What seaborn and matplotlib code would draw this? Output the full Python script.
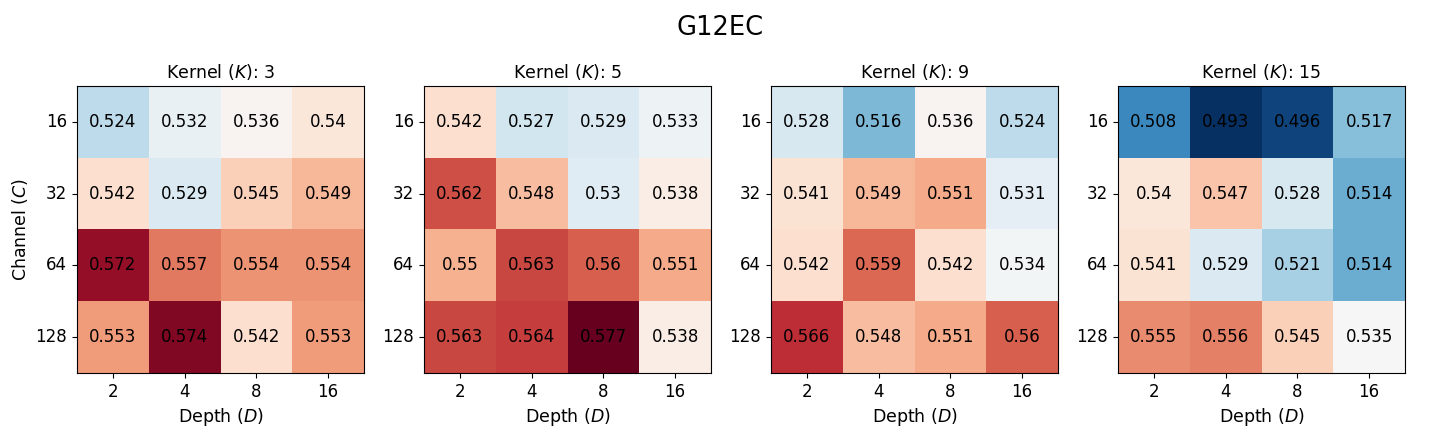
import matplotlib
matplotlib.use("Agg")
import matplotlib.pyplot as plt
import numpy as np
import seaborn as sns

depths = [2, 4, 8, 16]
channels = [16, 32, 64, 128]
kernels = [3, 5, 9, 15]

k3 = [[0.524, 0.532, 0.536, 0.54],
      [0.542, 0.529, 0.545, 0.549],
      [0.572, 0.557, 0.554, 0.554],
      [0.553, 0.574, 0.542, 0.553]]
k5 = [[0.542, 0.527, 0.529, 0.533],
      [0.562, 0.548, 0.53, 0.538],
      [0.55, 0.563, 0.56, 0.551],
      [0.563, 0.564, 0.577, 0.538]]
k9 = [[0.528, 0.516, 0.536, 0.524],
      [0.541, 0.549, 0.551, 0.531],
      [0.542, 0.559, 0.542, 0.534],
      [0.566, 0.548, 0.551, 0.56]]
k15 = [[0.508, 0.493, 0.496, 0.517],
       [0.54, 0.547, 0.528, 0.514],
       [0.541, 0.529, 0.521, 0.514],
       [0.555, 0.556, 0.545, 0.535]]

grids = [np.array(g) for g in (k3, k5, k9, k15)]
vmin = min(g.min() for g in grids)
vmax = max(g.max() for g in grids)

fig, axes = plt.subplots(1, 4, figsize=(14.4, 4.32), dpi=100)
fig.subplots_adjust(left=0.0535, right=0.9757, top=0.801, bottom=0.1366, wspace=0.209)

for i, (ax, k, g) in enumerate(zip(axes, kernels, grids)):
    sns.heatmap(g, ax=ax, cmap="RdBu_r", vmin=vmin, vmax=vmax, cbar=False,
                annot=True, fmt="g", square=True,
                annot_kws={"color": "black", "fontsize": 12},
                xticklabels=depths, yticklabels=channels)
    for s in ax.spines.values():
        s.set_visible(True)
        s.set_color("black")
        s.set_linewidth(0.8)
    ax.tick_params(labelsize=12, length=3.5)
    ax.set_yticklabels(channels, rotation=0)
    ax.set_xticklabels(depths, rotation=0)
    ax.set_title(f"Kernel ($K$): {k}", fontsize=12.5)
    ax.set_xlabel("Depth ($D$)", fontsize=12.5)
    if i == 0:
        ax.set_ylabel("Channel ($C$)", fontsize=12.5)

fig.suptitle("G12EC", fontsize=18.5, y=0.965)
fig.savefig("out.png", dpi=100)
